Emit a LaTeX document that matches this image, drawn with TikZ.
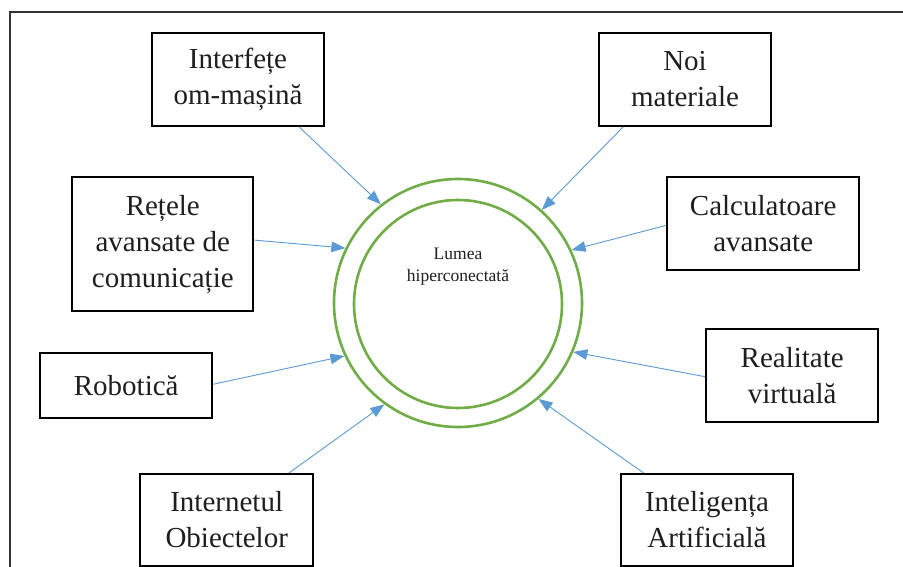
\documentclass[tikz,border=0pt]{standalone}
\usepackage{fontspec}
\setmainfont{Liberation Serif}
\usetikzlibrary{arrows.meta,calc}
\definecolor{ringgreen}{HTML}{70AD47}
\definecolor{linkblue}{HTML}{5B9BD5}
\begin{document}
\begin{tikzpicture}[x=1pt,y=-1pt,
  topic/.style={draw=black, line width=2pt, inner sep=0pt, align=center,
    font=\fontsize{29}{36}\selectfont, text=black!88},
  ring/.style={circle, draw=ringgreen, line width=2.6pt, inner sep=0pt},
  link/.style={draw=linkblue, line width=0.9pt, -{Triangle[length=14pt,width=10.5pt]}}]
  % page area
  \clip (0,0) rectangle (903,567);
  \fill[white] (0,0) rectangle (903,567);
  % outer frame (continues past the right and bottom edges)
  \draw[line width=1.5pt, black!80] (10,590) -- (10,12) -- (930,12);

  % central rings
  \node[ring, minimum size=248pt] (outer) at (458,303) {};
  \node[ring, minimum size=208pt] (inner) at (458,304) {};
  \node[align=center, inner sep=0pt, font=\fontsize{17.5}{22}\selectfont, text=black!88]
    (title) at (458,267) {Lumea\\hiperconectată};

  % surrounding topics
  \node[topic, minimum width=172pt, minimum height=92.5pt] (b1) at (238,79.5) {Interfețe\\om-mașină};
  \node[topic, minimum width=172pt, minimum height=92.5pt] (b2) at (685,79.5) {Noi\\materiale};
  \node[topic, minimum width=181pt, minimum height=134pt] (b3) at (162.8,244.2) {Rețele\\avansate de\\comunicație};
  \node[topic, minimum width=192pt, minimum height=93pt] (b4) at (763.2,223.5) {Calculatoare\\avansate};
  \node[topic, minimum width=172pt, minimum height=65pt] (b5) at (126.2,385.8) {Robotică};
  \node[topic, minimum width=172pt, minimum height=92.7pt] (b6) at (792.2,375.3) {Realitate\\virtuală};
  \node[topic, minimum width=173pt, minimum height=91.7pt] (b7) at (226.7,519.8) {Internetul\\Obiectelor};
  \node[topic, minimum width=172.6pt, minimum height=91.7pt] (b8) at (707,519.8) {Inteligența\\Artificială};

  % connectors into the outer ring
  \draw[link] ($(b1.south west)!0.85!(b1.south east)$) -- (outer.128.7);
  \draw[link] ($(b2.south west)!0.145!(b2.south east)$) -- (outer.48);
  \draw[link] ($(b3.north east)!0.47!(b3.south east)$) -- (outer.154.3);
  \draw[link] ($(b4.north west)!0.52!(b4.south west)$) -- (outer.25.4);
  \draw[link] ($(b5.north east)!0.477!(b5.south east)$) -- (outer.205.4);
  \draw[link] ($(b6.north west)!0.515!(b6.south west)$) -- (outer.337.4);
  \draw[link] ($(b7.north west)!0.856!(b7.north east)$) -- (outer.234.4);
  \draw[link] ($(b8.north west)!0.137!(b8.north east)$) -- (outer.310);
\end{tikzpicture}
\end{document}
